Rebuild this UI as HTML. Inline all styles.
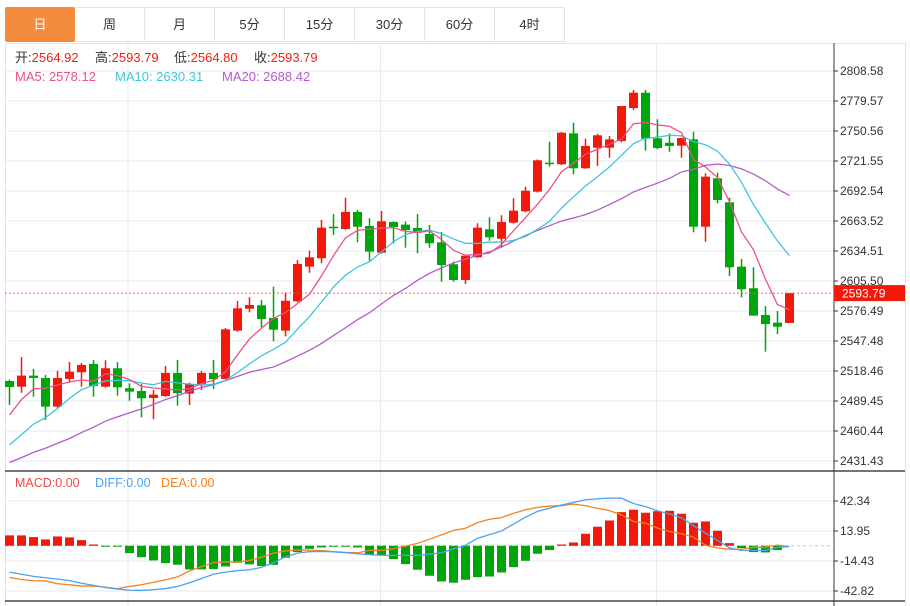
<!DOCTYPE html>
<html><head><meta charset="utf-8">
<style>
body{margin:0;background:#fff;font-family:"Liberation Sans","Noto Sans CJK SC",sans-serif;}
#wrap{position:relative;width:910px;height:606px;overflow:hidden;background:#fff}
.tab{position:absolute;top:7px;height:35px;width:70px;border:1px solid #e0e4e8;border-left:none;box-sizing:border-box;font-size:13px;color:#333;text-align:center;line-height:34px;cursor:pointer}
.tab.on{background:#f28b3c;color:#fff;border-color:#f28b3c;border-radius:2px}
svg{position:absolute;left:0;top:0}
</style></head><body>
<div id="wrap">
<div class="tab on" style="left:5px;border-left:1px solid #f28b3c">日</div>
<div class="tab" style="left:75px">周</div>
<div class="tab" style="left:145px">月</div>
<div class="tab" style="left:215px">5分</div>
<div class="tab" style="left:285px">15分</div>
<div class="tab" style="left:355px">30分</div>
<div class="tab" style="left:425px">60分</div>
<div class="tab" style="left:495px">4时</div>
<svg id="chart" width="910" height="606"></svg>
</div>
<script>
const opens=[2508.8,2503.3,2514.0,2511.7,2484.0,2510.8,2517.2,2525.3,2503.3,2521.1,2501.8,2499.1,2492.4,2494.3,2516.6,2496.6,2505.9,2516.6,2510.8,2557.5,2578.7,2582.0,2569.7,2557.5,2585.9,2619.4,2627.5,2658.0,2655.8,2672.3,2658.7,2632.9,2662.6,2660.0,2656.8,2651.0,2642.9,2621.7,2606.5,2628.4,2655.5,2646.4,2661.9,2672.9,2691.9,2719.9,2718.4,2748.3,2714.5,2734.4,2734.4,2740.9,2772.8,2787.6,2743.5,2739.2,2736.4,2742.5,2658.0,2704.8,2681.6,2619.4,2598.5,2572.6,2565.2,2564.92];
const highs=[2510.1,2532.0,2520.4,2514.6,2518.5,2527.2,2526.2,2529.1,2528.8,2527.0,2506.6,2505.9,2500.1,2523.3,2529.1,2507.2,2518.5,2529.1,2560.1,2586.2,2589.8,2587.1,2600.0,2594.2,2625.8,2634.8,2664.5,2670.3,2686.1,2674.2,2666.2,2673.2,2663.0,2662.9,2670.3,2659.7,2652.9,2624.2,2630.0,2661.3,2667.1,2669.1,2685.5,2696.7,2723.0,2740.2,2749.6,2758.6,2743.1,2747.7,2745.7,2774.7,2790.2,2790.2,2761.9,2748.3,2743.8,2749.9,2709.7,2710.3,2686.1,2626.8,2618.8,2581.3,2576.5,2593.79];
const lows=[2485.6,2497.5,2493.6,2471.1,2483.0,2508.2,2503.3,2493.6,2502.5,2494.6,2489.8,2473.7,2471.8,2493.5,2484.9,2485.6,2500.1,2501.1,2510.2,2556.5,2575.2,2560.7,2547.2,2552.0,2585.0,2613.5,2622.6,2650.0,2655.1,2642.9,2625.1,2632.0,2641.9,2637.7,2632.3,2637.7,2604.8,2604.8,2602.6,2628.0,2644.5,2638.7,2661.0,2672.0,2691.0,2716.0,2717.7,2708.7,2714.0,2716.7,2724.7,2739.6,2770.9,2731.5,2733.0,2730.5,2724.7,2652.6,2643.5,2680.6,2610.3,2589.7,2572.0,2537.1,2554.2,2564.80];
const closes=[2503.0,2514.0,2511.7,2484.0,2511.7,2517.8,2524.3,2504.0,2521.1,2502.7,2498.5,2492.1,2495.6,2516.6,2497.0,2505.9,2516.6,2510.5,2558.8,2579.1,2582.3,2568.8,2558.4,2586.4,2622.0,2628.4,2657.1,2656.5,2672.3,2658.0,2633.9,2663.2,2657.7,2654.8,2652.2,2642.0,2621.0,2606.5,2630.0,2657.1,2647.8,2662.6,2673.5,2692.8,2722.2,2718.6,2748.9,2714.5,2736.1,2746.4,2742.5,2774.7,2787.6,2743.1,2734.1,2736.1,2743.8,2658.0,2706.4,2683.8,2618.8,2597.5,2572.0,2563.9,2561.3,2593.79];
const priorCloses=[2420,2410,2405,2415,2425,2410,2400,2405,2420,2420,2415,2410,2420,2425,2420,2440,2460,2480,2497];
const diffVals=[-25,-27,-29,-30.3,-31.5,-33,-35.5,-37.5,-39.5,-41,-42,-42.3,-41.5,-40.5,-38.5,-35,-31,-27,-25,-23.5,-22.7,-20.5,-16,-10.5,-7,-5.6,-5.4,-5.8,-6.6,-7.5,-8.5,-9,-9.1,-9.1,-9.1,-8,-6.6,-3,0.5,7,10.5,14,20.5,27,32.5,35.5,38.5,41,43.5,44.5,45.2,45,40,37,33,30,26.5,19,12,5,-2,-4.4,-4.5,-4.5,-1.5,-0.8];
const macdBars=[9.8,9.8,8.2,6.0,8.8,7.9,5.3,1.2,-0.5,-0.8,-7.0,-10.8,-13.9,-16.4,-18.0,-22.4,-22.4,-22.1,-19.6,-16.1,-17.6,-19.2,-18.0,-11.4,-6.0,-2.9,-1.6,-0.5,-0.5,-1.6,-8.5,-9.1,-12.6,-17.4,-22.7,-28.4,-33.8,-35.0,-32.2,-29.7,-29.1,-25.3,-20.2,-14.2,-7.6,-4.1,1.2,3.1,11.3,18.0,23.9,31.8,34.1,31.2,32.7,33.1,30.3,21.8,23.0,14.2,2.5,-2.2,-6.0,-6.3,-4.1,0];
const priceTicks=[2808.58,2779.57,2750.56,2721.55,2692.54,2663.52,2634.51,2605.50,2576.49,2547.48,2518.46,2489.45,2460.44,2431.43];
const macdTicks=[42.34,13.95,-14.43,-42.82];
const maLegendVals=[2578.12,2630.31,2688.42];
const lastPrice=2593.79;

const NS="http://www.w3.org/2000/svg";
const svg=document.getElementById('chart');
function mk(t,a,parent){const e=document.createElementNS(NS,t);for(const k in a)e.setAttribute(k,a[k]);(parent||svg).appendChild(e);return e;}
const X0=5,X1=834,R=905;
const xAt=i=>9.5+12*i;
const pTop=priceTicks[0],pBot=priceTicks[priceTicks.length-1];
const yP=p=>71+(pTop-p)*(390/(pTop-pBot));
const mTop=macdTicks[0],mBot=macdTicks[macdTicks.length-1];
const yM=v=>501+(mTop-v)*(90/(mTop-mBot));

const grid=mk('g',{});
priceTicks.forEach(p=>mk('line',{x1:X0,x2:X1,y1:yP(p),y2:yP(p),stroke:'#e4eaf0','stroke-width':1},grid));
macdTicks.forEach(v=>mk('line',{x1:X0,x2:X1,y1:yM(v),y2:yM(v),stroke:'#e4eaf0','stroke-width':1},grid));
[128,380.5,656.5].forEach(x=>mk('line',{x1:x,x2:x,y1:43,y2:606,stroke:'#e4eaf0','stroke-width':1},grid));
mk('line',{x1:5.5,x2:5.5,y1:43,y2:606,stroke:'#dde2e7'},grid);
mk('line',{x1:905.5,x2:905.5,y1:43,y2:606,stroke:'#dde2e7'},grid);
mk('line',{x1:5,x2:905,y1:43.5,y2:43.5,stroke:'#e0e4e8'},grid);
mk('line',{x1:5,x2:905,y1:471,y2:471,stroke:'#222','stroke-width':1.2},grid);
mk('line',{x1:5,x2:905,y1:601,y2:601,stroke:'#222','stroke-width':1.2},grid);
mk('line',{x1:X1,x2:X1,y1:43,y2:606,stroke:'#333','stroke-width':1},grid);

const pa=mk('g',{});
priceTicks.forEach(p=>{mk('line',{x1:X1,x2:X1+4,y1:yP(p),y2:yP(p),stroke:'#333'},pa);
 const t=mk('text',{x:840,y:yP(p)+4,'font-size':12,fill:'#333'},pa);t.textContent=p.toFixed(2);});
const ma=mk('g',{});
macdTicks.forEach(v=>{mk('line',{x1:X1,x2:X1+4,y1:yM(v),y2:yM(v),stroke:'#333'},ma);
 const t=mk('text',{x:840,y:yM(v)+4,'font-size':12,fill:'#333'},ma);t.textContent=v.toFixed(2);});

const cg=mk('g',{});
for(let i=0;i<closes.length;i++){
 const up=closes[i]>=opens[i];const col=up?'#f2180a':'#00a50a';const x=xAt(i);
 const g=mk('g',{},cg);
 
 
 mk('line',{x1:x,x2:x,y1:yP(highs[i]),y2:yP(lows[i]),stroke:col,'stroke-width':1.5},g);
 const t=yP(Math.max(opens[i],closes[i])),b=yP(Math.min(opens[i],closes[i]));
 mk('rect',{x:x-4.5,y:t,width:9,height:Math.max(1.5,b-t),fill:col},g);
}
const all=priorCloses.concat(closes);
function maArr(n){const r=[];for(let i=0;i<closes.length;i++){const k=i+priorCloses.length;let s=0;for(let j=k-n+1;j<=k;j++)s+=all[j];r.push(s/n);}return r;}
const ma5=maArr(5),ma10=maArr(10),ma20=maArr(20);
function line(arr,col,name,yf){const p=mk('polyline',{points:arr.map((v,i)=>xAt(i)+','+yf(v)).join(' '),fill:'none',stroke:col,'stroke-width':1.3});
 
 }
line(ma20,'#b45ac8','ma20-line',yP);line(ma10,'#3ec6dc','ma10-line',yP);line(ma5,'#ee5088','ma5-line',yP);

const lp=mk('line',{x1:X0,x2:X1,y1:yP(lastPrice),y2:yP(lastPrice),stroke:'#f06060','stroke-dasharray':'2,2','stroke-width':1});

const lb=mk('g',{});
mk('rect',{x:X1,y:yP(lastPrice)-8,width:71,height:16,fill:'#f2180a'},lb);
const lt=mk('text',{x:842,y:yP(lastPrice)+4.5,'font-size':12,fill:'#fff'},lb);lt.textContent=lastPrice.toFixed(2);

const mg=mk('g',{});
mk('line',{x1:X0,x2:X1,y1:yM(0),y2:yM(0),stroke:'#9fd6ee','stroke-dasharray':'3,3'},mg);
macdBars.forEach((v,i)=>{if(v===0)return;const y0=yM(0),y1=yM(v);
 const r=mk('rect',{x:xAt(i)-4.5,y:Math.min(y0,y1),width:9,height:Math.max(1,Math.abs(y1-y0)),fill:v>0?'#f2180a':'#00a50a'},mg);
 
 });
const deaVals=diffVals.map((d,i)=>d-macdBars[i]/2);
line(deaVals,'#f5821f','dea-line',yM);line(diffVals,'#4aa3f0','diff-line',yM);

function txt(x,y,s,col,name,size){const t=mk('text',{x:x,y:y,'font-size':size||13,fill:col});t.textContent=s;
 return t;}
const ohlc=[['开:',opens],['高:',highs],['低:',lows],['收:',closes]];
[15,95,174,254].forEach((x,k)=>{const t=mk('text',{x:x,y:62,'font-size':13,fill:'#333'});
 
 const a=mk('tspan',{},t);a.textContent=ohlc[k][0];const b=mk('tspan',{fill:'#f0220a'},t);b.textContent=ohlc[k][1][closes.length-1].toFixed(2);});
txt(15,81,'MA5: '+maLegendVals[0].toFixed(2),'#ee5088','ma5-legend');
txt(115,81,'MA10: '+maLegendVals[1].toFixed(2),'#3ec6dc','ma10-legend');
txt(222,81,'MA20: '+maLegendVals[2].toFixed(2),'#b45ac8','ma20-legend');
txt(15,487,'MACD:0.00','#f04848','macd-legend',12.5);
txt(95,487,'DIFF:0.00','#4aa3f0','diff-legend',12.5);
txt(161,487,'DEA:0.00','#f5821f','dea-legend',12.5);
</script>
</body></html>
